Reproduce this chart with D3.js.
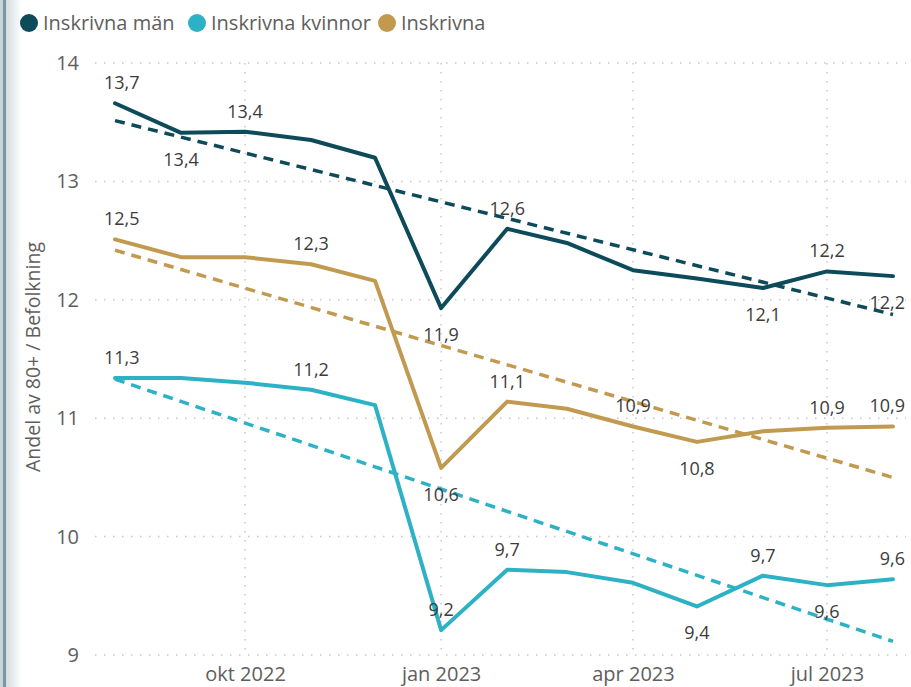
<!DOCTYPE html>
<html>
<head>
<meta charset="utf-8">
<script src="https://cdn.jsdelivr.net/npm/d3@7"></script>
<style>
  html, body { margin: 0; padding: 0; background: #fff; }
  svg { display: block; }
  text { font-family: "Open Sans", "Noto Sans", sans-serif; }
</style>
</head>
<body>
<svg id="chart" width="911" height="687"></svg>
<script>
// ---- data ----
const months = ["2022-08","2022-09","2022-10","2022-11","2022-12","2023-01",
                "2023-02","2023-03","2023-04","2023-05","2023-06","2023-07","2023-08"];
const seriesNames = ["Inskrivna män", "Inskrivna kvinnor", "Inskrivna"];
const men   = [13.66, 13.41, 13.42, 13.35, 13.20, 11.93, 12.60, 12.48, 12.25, 12.18, 12.10, 12.24, 12.20];
const women = [11.34, 11.34, 11.30, 11.24, 11.11, 9.21, 9.72, 9.70, 9.61, 9.41, 9.67, 9.59, 9.64];
const total = [12.51, 12.36, 12.36, 12.30, 12.16, 10.58, 11.14, 11.08, 10.93, 10.80, 10.89, 10.92, 10.93];
// data labels shown: [month index, "a" above / "b" below]
const menLabels   = [[0,"a"],[1,"b"],[2,"a"],[5,"b"],[6,"a"],[10,"b"],[11,"a"],[12,"b"]];
const womenLabels = [[0,"a"],[3,"a"],[5,"a"],[6,"a"],[9,"b"],[10,"a"],[11,"b"],[12,"a"]];
const totalLabels = [[0,"a"],[3,"a"],[5,"b"],[6,"a"],[8,"a"],[9,"b"],[11,"a"],[12,"a"]];
const yTicks = [9, 10, 11, 12, 13, 14];
const xTickMonths = ["2022-10","2023-01","2023-04","2023-07"];
const xTickLabels = ["okt 2022","jan 2023","apr 2023","jul 2023"];
const yTitle = "Andel av 80+ / Befolkning";

// ---- styles ----
const colors = ["#0d4a5a", "#2cb2c4", "#c29a4f"];
const parse = d3.timeParse("%Y-%m");
const dates = months.map(parse);

const svg = d3.select("#chart");

// left border decoration
const defs = svg.append("defs");
const grad = defs.append("linearGradient").attr("id","lg").attr("x1","0").attr("x2","1");
grad.append("stop").attr("offset","0").attr("stop-color","#d3dde2");
grad.append("stop").attr("offset","1").attr("stop-color","#ffffff");
svg.append("rect").attr("x",6).attr("y",0).attr("width",16).attr("height",687).attr("fill","url(#lg)");
svg.append("rect").attr("x",0).attr("y",0).attr("width",3).attr("height",687).attr("fill","#c9d4da");
svg.append("rect").attr("x",3).attr("y",0).attr("width",3).attr("height",687).attr("fill","#7d95a2");

const x = d3.scaleTime().domain([dates[0], dates[dates.length-1]]).range([115, 893]);
const y = d3.scaleLinear().domain([9, 14]).range([655, 63]);

// gridlines
const grid = svg.append("g");
grid.selectAll("line.h").data(yTicks).join("line")
  .attr("x1", 95).attr("x2", 906)
  .attr("y1", d => y(d)).attr("y2", d => y(d))
  .attr("stroke", "#c8c8c8").attr("stroke-width", 1.5).attr("stroke-dasharray", "1.5,7.5");
grid.selectAll("line.v").data(xTickMonths.map(parse)).join("line")
  .attr("x1", d => x(d)).attr("x2", d => x(d))
  .attr("y1", 63).attr("y2", 655)
  .attr("stroke", "#c8c8c8").attr("stroke-width", 1.5).attr("stroke-dasharray", "1.5,7.5");

// axes
const yAxis = d3.axisLeft(y).tickValues(yTicks).tickSize(0).tickPadding(0).tickFormat(d => String(d));
const gy = svg.append("g").attr("transform", "translate(79,0)").call(yAxis);
gy.select(".domain").remove();
gy.selectAll("text").attr("font-size", 20).attr("fill", "#605e5c").attr("font-family", "Open Sans");

const xAxis = d3.axisBottom(x).tickValues(xTickMonths.map(parse)).tickSize(0).tickPadding(0)
  .tickFormat((d, i) => xTickLabels[i]);
const gx = svg.append("g").attr("transform", "translate(0,667)").call(xAxis);
gx.select(".domain").remove();
gx.selectAll("text").attr("font-size", 20).attr("fill", "#605e5c").attr("font-family", "Open Sans");

// y title
svg.append("text")
  .attr("transform", "translate(40,357) rotate(-90)")
  .attr("text-anchor", "middle")
  .attr("font-size", 19.5).attr("fill", "#605e5c")
  .text(yTitle);

const allSeries = [men, women, total];
const allLabels = [menLabels, womenLabels, totalLabels];

// lines
const line = d3.line().x((d, i) => x(dates[i])).y(d => y(d));
allSeries.forEach((s, k) => {
  svg.append("path").datum(s).attr("d", line)
    .attr("fill", "none").attr("stroke", colors[k]).attr("stroke-width", 4)
    .attr("stroke-linejoin", "round").attr("stroke-linecap", "round");
});

// trend lines (least squares)
allSeries.forEach((s, k) => {
  const xs = dates.map(d => +d);
  const mx = d3.mean(xs), my = d3.mean(s);
  let sxy = 0, sxx = 0;
  xs.forEach((xv, i) => { sxy += (xv - mx) * (s[i] - my); sxx += (xv - mx) ** 2; });
  const b = sxy / sxx, a = my - b * mx;
  const ends = [xs[0], xs[xs.length - 1]];
  svg.append("line")
    .attr("x1", x(ends[0])).attr("y1", y(a + b * ends[0]))
    .attr("x2", x(ends[1])).attr("y2", y(a + b * ends[1]))
    .attr("stroke", colors[k]).attr("stroke-width", 3.5)
    .attr("stroke-dasharray", "10,7");
});

// data labels
const fmt = v => d3.format(".1f")(v).replace(".", ",");
allSeries.forEach((s, k) => {
  allLabels[k].forEach(([i, pos]) => {
    const px = x(dates[i]), py = y(s[i]);
    const t = svg.append("text")
      .attr("x", px).attr("y", pos === "a" ? py - 14 : py + 33)
      .attr("text-anchor", "middle")
      .attr("font-size", 18).attr("fill", "#3c3c3c")
      .text(fmt(s[i]));
    const w = t.node().getComputedTextLength();
    let cx = px;
    if (cx - w / 2 < 104) cx = 104 + w / 2;
    if (cx + w / 2 > 905) cx = 905 - w / 2;
    t.attr("x", cx);
  });
});

// legend
const legendX = [29, 197, 387];
seriesNames.forEach((n, k) => {
  svg.append("circle").attr("cx", legendX[k]).attr("cy", 23).attr("r", 9).attr("fill", colors[k]);
  svg.append("text").attr("x", legendX[k] + 14).attr("y", 30)
    .attr("font-size", 20).attr("fill", "#605e5c").text(n);
});
</script>
</body>
</html>
